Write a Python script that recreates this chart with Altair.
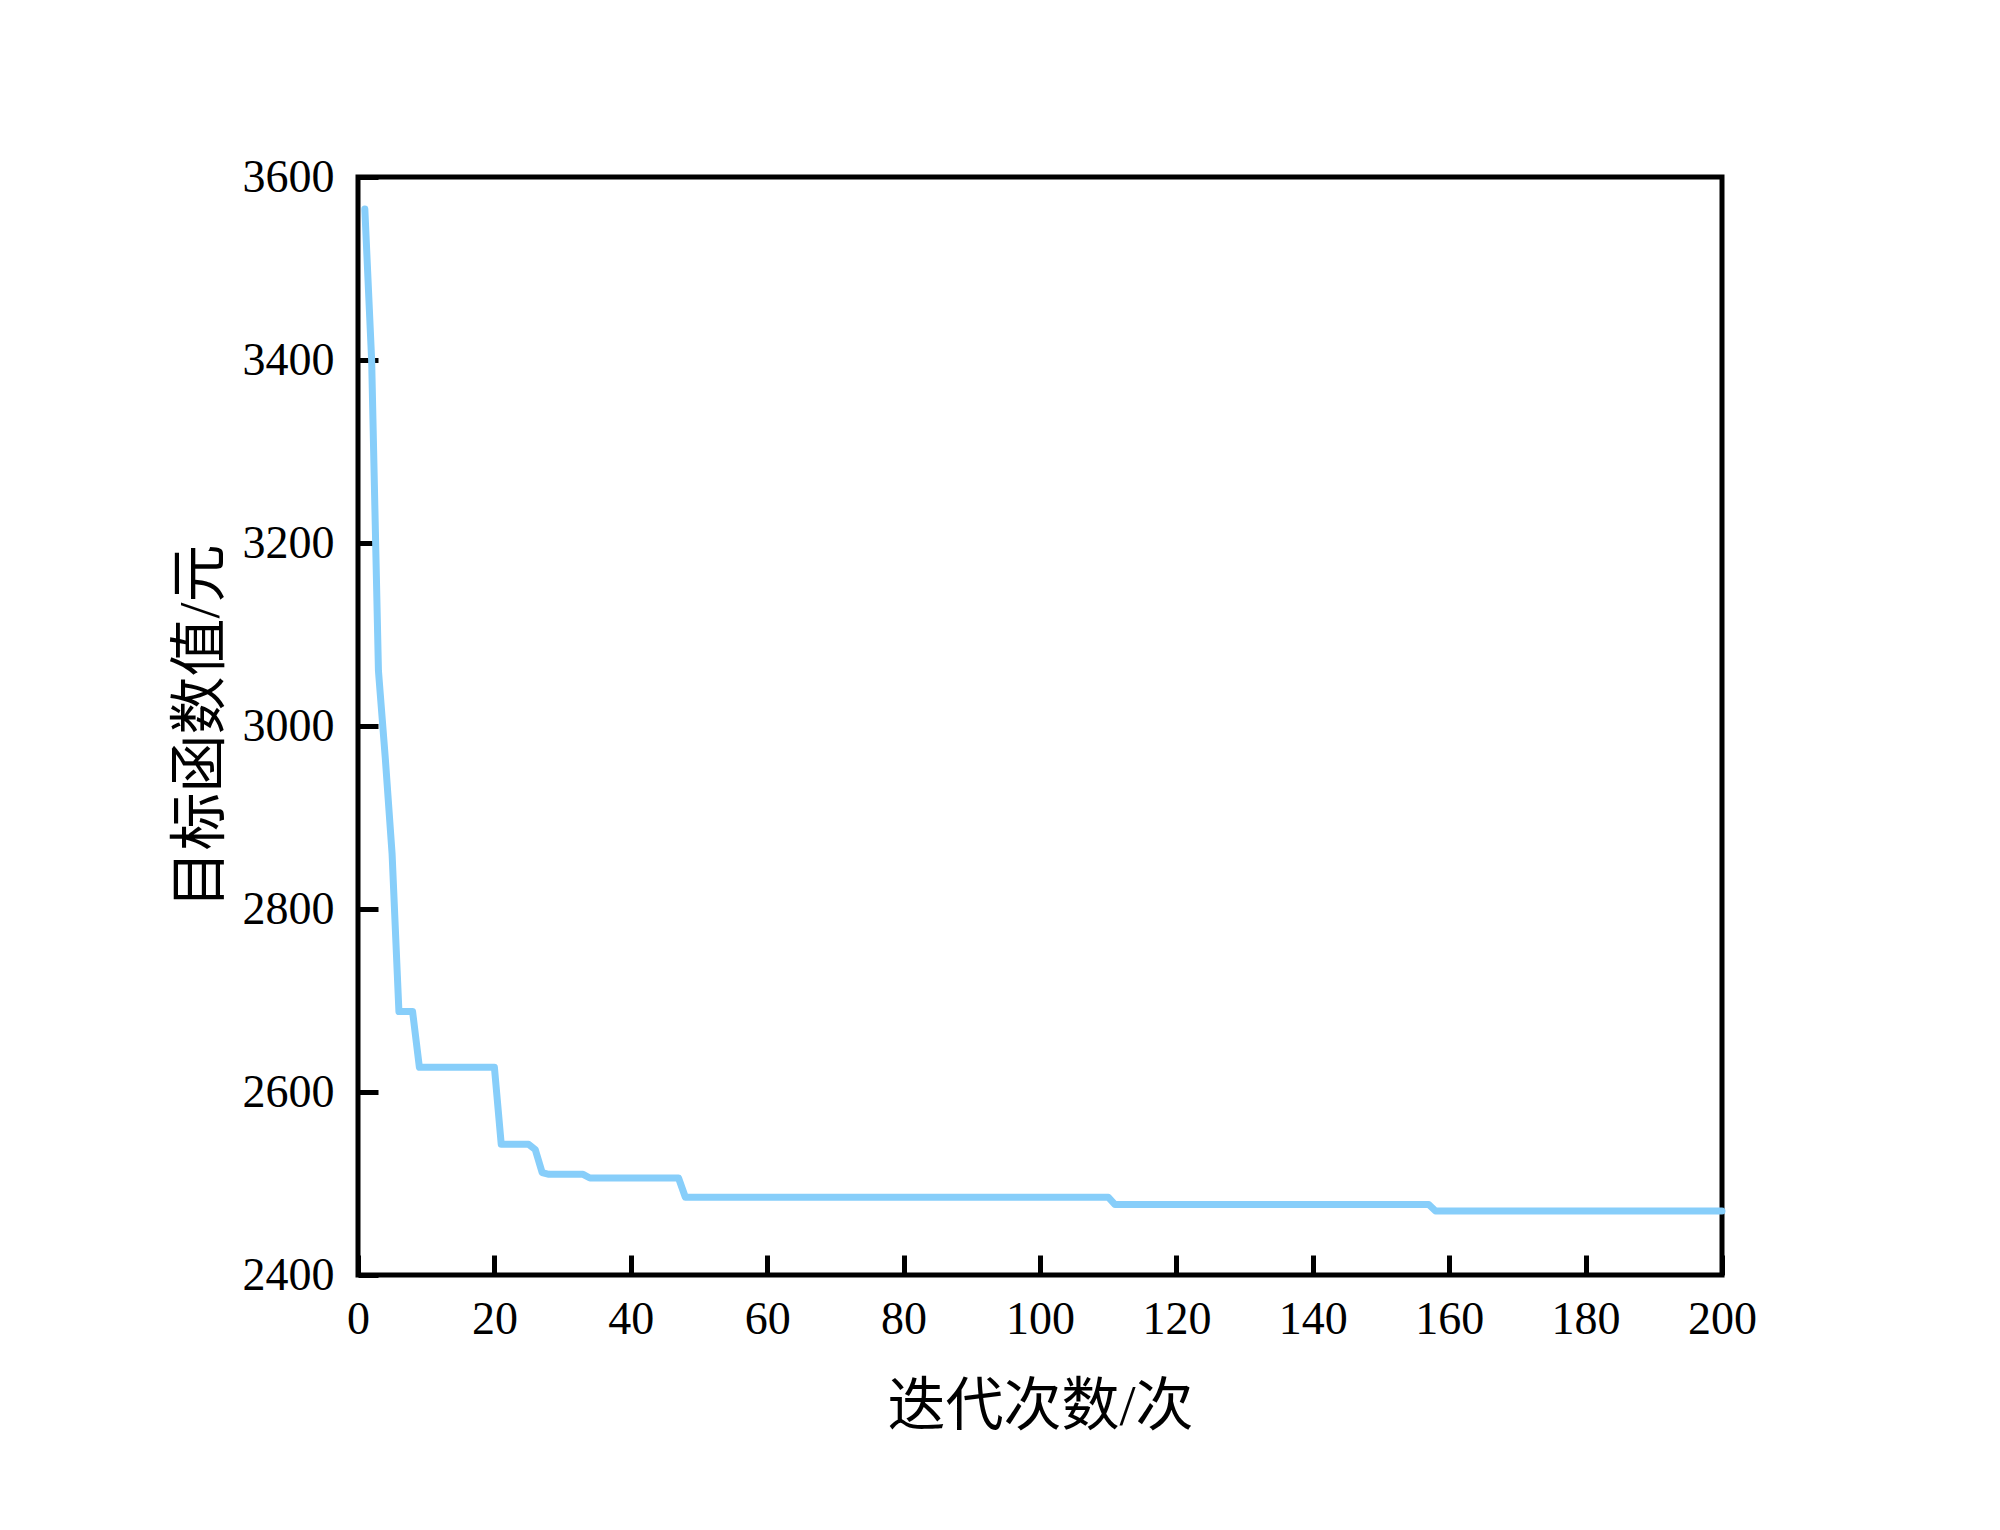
import altair as alt
import pandas as pd

# Iteration numbers at which the best objective value changes (corner points of the curve)
iterations = [1, 2, 3, 4, 5, 6, 8, 9, 20, 21, 25, 26, 27, 28, 33, 34, 47, 48, 110, 111, 157, 158, 200]
objective = [3565, 3400, 3060, 2965, 2860, 2688, 2688, 2627, 2627, 2543, 2543, 2537, 2512, 2510,
             2510, 2506, 2506, 2485, 2485, 2477, 2477, 2470, 2470]

x_ticks = [0, 20, 40, 60, 80, 100, 120, 140, 160, 180, 200]
y_ticks = [2400, 2600, 2800, 3000, 3200, 3400, 3600]

x_title = "迭代次数/次"
y_title = "目标函数值/元"

df = pd.DataFrame({"iter": iterations, "value": objective})

FONT = "Liberation Serif, Times New Roman, Noto Sans CJK SC"

chart = alt.Chart(df).mark_line(
    color="#87CEFA", strokeWidth=7, strokeCap="round", strokeJoin="round"
).encode(
    x=alt.X("iter:Q",
            scale=alt.Scale(domain=[0, 200], nice=False, zero=False),
            axis=alt.Axis(values=x_ticks, title=x_title, format="d",
                          domain=False, ticks=True, tickSize=20, tickWidth=5,
                          tickColor="black", offset=-20, labelPadding=22,
                          labelFontSize=46, labelFont=FONT, labelColor="black",
                          titleFontSize=58, titleFont=FONT, titleFontWeight="normal",
                          titleColor="black", titlePadding=36, grid=False,
                          labelFlush=False)),
    y=alt.Y("value:Q",
            scale=alt.Scale(domain=[2400, 3600], nice=False, zero=False),
            axis=alt.Axis(values=y_ticks, title=y_title, format="d",
                          domain=False, ticks=True, tickSize=20, tickWidth=5,
                          tickColor="black", offset=-20, labelPadding=24,
                          labelFontSize=46, labelFont=FONT, labelColor="black",
                          titleFontSize=58, titleFont=FONT, titleFontWeight="normal",
                          titleColor="black", titlePadding=12, grid=False,
                          labelFlush=False)),
).properties(
    width=1364,
    height=1098,
    autosize=alt.AutoSizeParams(type="none"),
    padding={"left": 350, "top": 169, "right": 250, "bottom": 230},
    background="white",
).configure_view(
    stroke="black", strokeWidth=5, fill="white"
)

chart.save("out.html", embed_options={"renderer": "svg", "actions": False})
